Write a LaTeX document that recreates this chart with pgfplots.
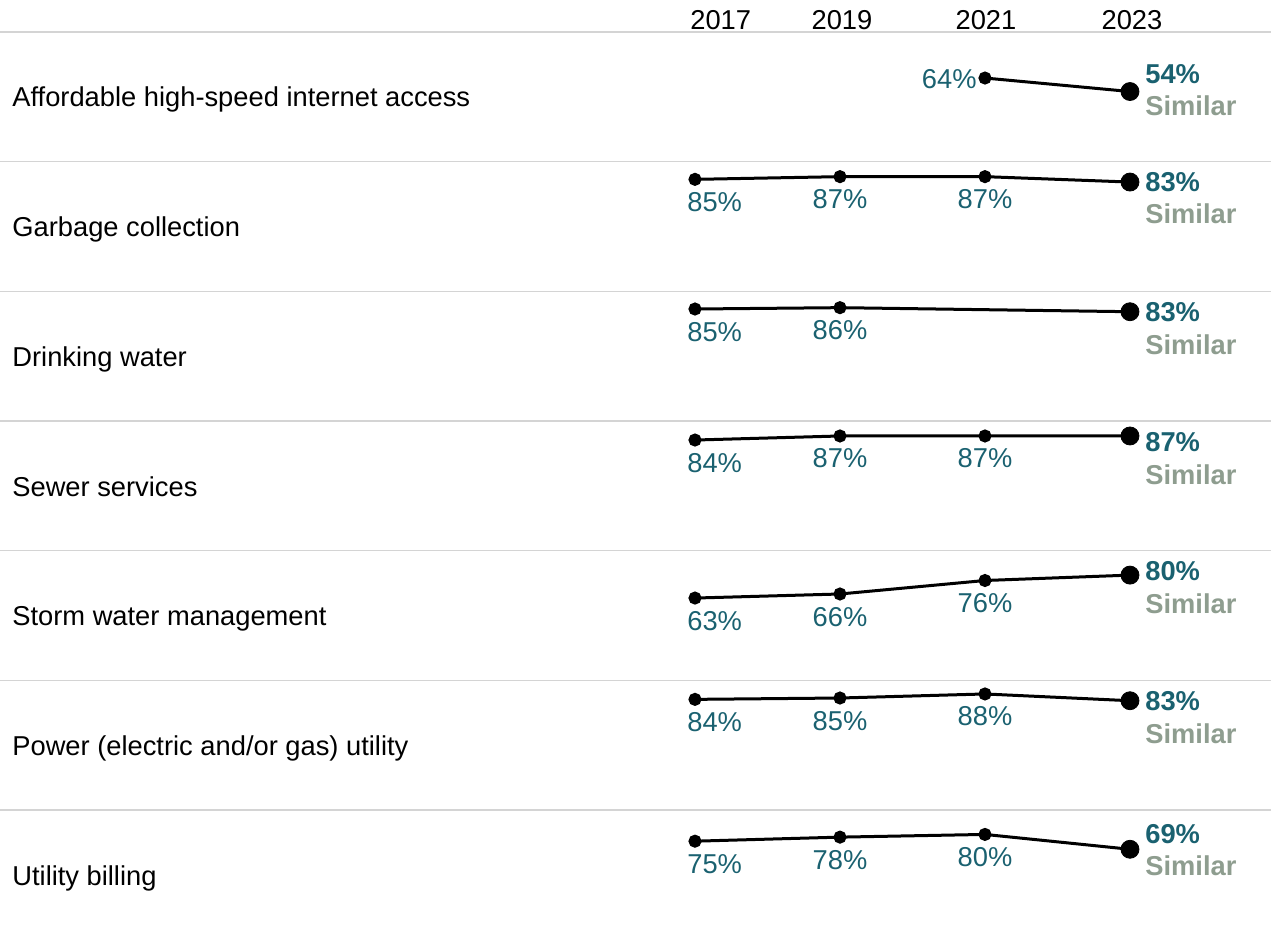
\documentclass[border=0pt]{standalone}
\usepackage{fontspec}
\setmainfont{Liberation Sans}
\usepackage{pgfplots}
\pgfplotsset{compat=1.18}
\definecolor{valteal}{HTML}{1A6170}
\definecolor{simgray}{HTML}{8E9D8F}
\definecolor{sepgray}{HTML}{D4D4D4}
\newlength\px
\setlength\px{0.5pt}

\pgfplotsset{
  row/.style={scale only axis, width=635.5pt, height=64.835pt,
    xmin=2007.414, xmax=2024.945, ymin=2.04, ymax=98.1,
    hide axis, clip=false, anchor=north west},
  trend/.style={black, line width=3\px, mark=*, mark size=5\px},
  endpt/.style={black, only marks, mark=*, mark size=9\px},
}
% row separator, row name, value labels
\newcommand\rowtop{\draw[sepgray, line width=1.5\px] (rel axis cs:0,1) -- (rel axis cs:1,1);}
\newcommand\rowname[1]{\node[anchor=base west, xshift=12\px, yshift=-75\px] at (rel axis cs:0,1) {#1};}
\newcommand\firstlab[1]{\node[text=valteal, anchor=base west, xshift=-8\px, yshift=-32\px] at (axis cs:2017,#1) {#1\%};}
\newcommand\vlab[2]{\node[text=valteal, anchor=base, yshift=-32\px] at (axis cs:#1,#2) {#2\%};}
\newcommand\lastlab[3]{%
  \node[text=valteal, anchor=base west, xshift=15\px, yshift=-#2\px] at (axis cs:2023,98.1) {\bfseries #1\%};
  \node[text=simgray, anchor=base west, xshift=15\px, yshift=-#3\px] at (axis cs:2023,98.1) {\bfseries Similar};}

\begin{document}
\begin{tikzpicture}[font=\fontsize{13.65}{16}\selectfont, every node/.style={inner sep=0pt}]
\path[use as bounding box] (0,0) rectangle (1271\px,-937\px);

% Affordable high-speed internet access
\begin{axis}[row, at={(0,-32\px)}]
\rowtop
\node[anchor=base west, xshift=-5\px, yshift=2\px] at (axis cs:2017,98.1) {2017};
\node[anchor=base, xshift=2\px, yshift=2\px] at (axis cs:2019,98.1) {2019};
\node[anchor=base, xshift=1\px, yshift=2\px] at (axis cs:2021,98.1) {2021};
\node[anchor=base, xshift=2\px, yshift=2\px] at (axis cs:2023,98.1) {2023};
\rowname{Affordable high-speed internet access}
\addplot[trend] coordinates {(2021,64) (2023,54)};
\addplot[endpt] coordinates {(2023,54)};
\node[text=valteal, anchor=base east, xshift=-8\px, yshift=-10\px] at (axis cs:2021,64) {64\%};
\lastlab{54}{52}{84}
\end{axis}

% Garbage collection
\begin{axis}[row, at={(0,-161.67\px)}]
\rowtop
\rowname{Garbage collection}
\addplot[trend] coordinates {(2017,85) (2019,87) (2021,87) (2023,83)};
\addplot[endpt] coordinates {(2023,83)};
\firstlab{85}\vlab{2019}{87}\vlab{2021}{87}
\lastlab{83}{30}{62}
\end{axis}

% Drinking water
\begin{axis}[row, at={(0,-291.33\px)}]
\rowtop
\rowname{Drinking water}
\addplot[trend] coordinates {(2017,85) (2019,86)};
\addplot[black, line width=3\px] coordinates {(2019,86) (2023,83)};
\addplot[endpt] coordinates {(2023,83)};
\firstlab{85}\vlab{2019}{86}
\lastlab{83}{30}{63}
\end{axis}

% Sewer services
\begin{axis}[row, at={(0,-421\px)}]
\rowtop
\rowname{Sewer services}
\addplot[trend] coordinates {(2017,84) (2019,87) (2021,87) (2023,87)};
\addplot[endpt] coordinates {(2023,87)};
\firstlab{84}\vlab{2019}{87}\vlab{2021}{87}
\lastlab{87}{30}{63}
\end{axis}

% Storm water management
\begin{axis}[row, at={(0,-550.67\px)}]
\rowtop
\rowname{Storm water management}
\addplot[trend] coordinates {(2017,63) (2019,66) (2021,76) (2023,80)};
\addplot[endpt] coordinates {(2023,80)};
\firstlab{63}\vlab{2019}{66}\vlab{2021}{76}
\lastlab{80}{30}{63}
\end{axis}

% Power (electric and/or gas) utility
\begin{axis}[row, at={(0,-680.33\px)}]
\rowtop
\rowname{Power (electric and/or gas) utility}
\addplot[trend] coordinates {(2017,84) (2019,85) (2021,88) (2023,83)};
\addplot[endpt] coordinates {(2023,83)};
\firstlab{84}\vlab{2019}{85}\vlab{2021}{88}
\lastlab{83}{30}{63}
\end{axis}

% Utility billing
\begin{axis}[row, at={(0,-810\px)}]
\rowtop
\rowname{Utility billing}
\addplot[trend] coordinates {(2017,75) (2019,78) (2021,80) (2023,69)};
\addplot[endpt] coordinates {(2023,69)};
\firstlab{75}\vlab{2019}{78}\vlab{2021}{80}
\lastlab{69}{33}{65}
\end{axis}
\end{tikzpicture}
\end{document}
